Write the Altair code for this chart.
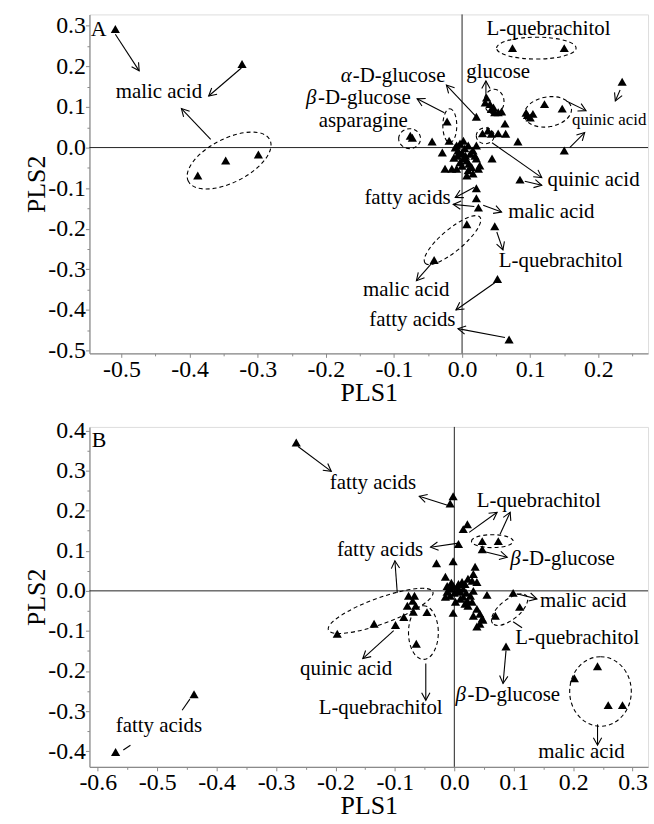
import math
import altair as alt
import pandas as pd

FONT = "Liberation Serif"
W, HA, HB = 562, 341, 342
XA_DOM = [-0.547, 0.273]
YA_DOM = [-0.507, 0.328]
XB_DOM = [-0.614, 0.326]
YB_DOM = [-0.439, 0.409]

# ---------------- Panel A scores ----------------
a_pls1 = [-0.509, -0.323, -0.388, -0.347, -0.299,
          0.074, 0.150, 0.235,
          0.121, 0.147, 0.096, 0.100, 0.104, 0.094,
          0.150, 0.085,
          0.036, 0.034, 0.041, 0.043, 0.048, 0.053, 0.058, 0.046,
          0.021, 0.063,
          0.030, 0.038, 0.043, 0.053, 0.064,
          0.082,
          -0.022, -0.019, -0.044, -0.076, -0.073, -0.029,
          -0.010, -0.006, 0.000, -0.007, 0.002, -0.003, 0.007, 0.012, 0.016, 0.021, 0.009, 0.004,
          0.019, 0.021, 0.014, 0.024, 0.026, 0.009, 0.007, 0.016, -0.025, -0.015, -0.008, 0.044,
          -0.003, 0.002, -0.004, 0.005, -0.012, 0.010, -0.008, 0.000,
          0.021, 0.021, 0.024, 0.007, 0.048, -0.041, 0.052, 0.069]
a_pls2 = [0.292, 0.206, -0.069, -0.032, -0.017,
          0.245, 0.245, 0.162,
          0.107, 0.096, 0.080, 0.074, 0.083, 0.086,
          -0.007, -0.079,
          0.123, 0.111, 0.107, 0.095, 0.087, 0.087, 0.089, 0.099,
          0.076, 0.059,
          0.035, 0.042, 0.034, 0.035, 0.034,
          0.015,
          0.064, 0.017, 0.015, 0.029, 0.024, -0.012,
          0.000, -0.007, -0.012, -0.020, -0.027, -0.036, -0.032, -0.015, -0.007, 0.005, 0.005, -0.002,
          -0.020, -0.027, -0.048, -0.052, -0.044, -0.056, -0.069, -0.064, -0.052, -0.052, -0.052, -0.027,
          0.010, 0.017, -0.015, -0.020, -0.025, -0.040, 0.005, -0.045,
          -0.100, -0.125, -0.148, -0.189, -0.194, -0.277, -0.324, -0.473]

# ---------------- Panel B scores ----------------
b_pls1 = [-0.266, -0.438, -0.570,
          -0.002, -0.007, 0.022, 0.015, 0.007, 0.047, 0.074, 0.047, -0.030, -0.002,
          0.035, 0.032, 0.030, 0.023, 0.018, 0.013, 0.007, 0.005, -0.002, -0.007, -0.012, -0.015,
          0.038, 0.032, 0.027, 0.022, 0.015, 0.010, 0.005, -0.007, -0.012, -0.015, 0.002, 0.018,
          0.023, 0.030, 0.038, 0.043, 0.047, 0.032,
          0.000, 0.010, -0.005, 0.015, 0.020,
          0.055, 0.099, 0.110, 0.069, -0.002,
          -0.077, -0.067, -0.070, -0.079, -0.065, -0.069, -0.085, -0.046, -0.135, -0.099, -0.197, -0.064,
          0.038, 0.043, 0.048, 0.087, 0.202, 0.241, 0.259, 0.283]
b_pls2 = [0.370, -0.258, -0.402,
          0.236, 0.218, 0.166, 0.154, 0.117, 0.124, 0.124, 0.104, 0.069, 0.074,
          0.060, 0.042, 0.025, 0.030, 0.017, 0.022, 0.017, 0.010, 0.012, 0.005, 0.012, 0.035,
          0.022, 0.000, -0.012, -0.025, -0.015, -0.002, 0.000, -0.012, -0.002, -0.015, -0.027, -0.032,
          -0.037, -0.027, -0.045, -0.057, -0.069, -0.062,
          -0.005, -0.020, 0.020, 0.005, -0.005,
          -0.010, -0.005, -0.040, -0.062, -0.055,
          -0.012, -0.012, -0.025, -0.037, -0.037, -0.052, -0.065, -0.053, -0.082, -0.085, -0.107, -0.132,
          -0.089, -0.082, -0.072, -0.139, -0.218, -0.188, -0.285, -0.285]

# ---------------- Annotation labels ----------------
a_lab_text = ["malic acid", "L-quebrachitol", "glucose", "asparagine", "quinic acid",
              "fatty acids", "malic acid", "L-quebrachitol", "malic acid", "fatty acids"]
a_lab_x = [-0.445, 0.127, 0.053, -0.145, 0.193, -0.080, 0.131, 0.145, -0.082, -0.073]
a_lab_y = [0.137, 0.292, 0.186, 0.065, -0.081, -0.125, -0.159, -0.279, -0.350, -0.426]
a_small_text = ["quinic acid"]
a_small_x = [0.216]
a_small_y = [0.069]
a_greek = ["α", "β"]
a_greek_rest = ["-D-glucose", "-D-glucose"]
a_greek_x = [-0.178, -0.229]
a_greek_y = [0.176, 0.122]

b_lab_text = ["fatty acids", "L-quebrachitol", "fatty acids", "malic acid", "L-quebrachitol",
              "malic acid", "quinic acid", "L-quebrachitol", "fatty acids"]
b_lab_x = [-0.137, 0.142, -0.125, 0.217, 0.207, 0.214, -0.182, -0.124, -0.497]
b_lab_y = [0.268, 0.223, 0.102, -0.025, -0.117, -0.402, -0.194, -0.293, -0.337]
b_greek = ["β", "β"]
b_greek_rest = ["-D-glucose", "-D-glucose"]
b_greek_x = [0.094, 0.002]
b_greek_y = [0.079, -0.260]

# ---------------- Dashed group ellipses (centre in data units, semi-axes px, tilt deg) ----
a_ell_x = [-0.342, 0.109, 0.047, -0.018, -0.077, 0.126, 0.034, -0.014]
a_ell_y = [-0.032, 0.245, 0.113, 0.054, 0.022, 0.088, 0.029, -0.228]
a_ell_a = [46, 40, 12.5, 17, 11, 24, 9, 36]
a_ell_b = [22, 11, 10, 7, 10, 15, 8, 11]
a_ell_t = [333, 0, 90, 90, 0, 350, 0, 320]

b_ell_x = [0.064, 0.246, 0.093, -0.124, -0.052]
b_ell_y = [0.124, -0.251, -0.047, -0.050, -0.104]
b_ell_a = [21, 35, 22, 56, 27]
b_ell_b = [6.5, 31, 10, 13, 15]
b_ell_t = [0, 90, 321, 340, 90]

# ---------------- Arrows (start -> end, head at end) ----------------
a_arr_x0 = [-0.509, -0.324, -0.369, 0.022, 0.035, -0.026, 0.153, 0.158, 0.232, 0.044, 0.092,
            0.018, 0.018, 0.031, 0.051, -0.044, 0.048, 0.063]
a_arr_y0 = [0.279, 0.196, 0.020, 0.074, 0.127, 0.086, 0.115, 0.000, 0.142, 0.012, -0.083,
            -0.098, -0.145, -0.142, -0.208, -0.284, -0.333, -0.468]
a_arr_x1 = [-0.474, -0.372, -0.412, -0.023, 0.035, -0.066, 0.182, 0.180, 0.225, 0.117, 0.117,
            -0.010, -0.013, 0.058, 0.060, -0.067, -0.009, -0.006]
a_arr_y1 = [0.189, 0.127, 0.096, 0.154, 0.164, 0.120, 0.091, 0.037, 0.115, -0.074, -0.093,
            -0.123, -0.140, -0.159, -0.252, -0.328, -0.400, -0.446]
a_arr_head = [1] * 18

b_arr_x0 = [-0.263, -0.010, 0.025, 0.077, 0.007, -0.096, 0.048, 0.105, 0.099, 0.087, 0.241,
            -0.102, -0.048, -0.445, -0.557]
b_arr_y0 = [0.360, 0.213, 0.146, 0.141, 0.119, -0.005, 0.099, -0.007, -0.077, -0.149, -0.333,
            -0.099, -0.181, -0.270, -0.397]
b_arr_x1 = [-0.207, -0.059, 0.072, 0.094, -0.040, -0.100, 0.089, 0.139, 0.114, 0.082, 0.241,
            -0.154, -0.048, -0.458, -0.545]
b_arr_y1 = [0.298, 0.236, 0.196, 0.196, 0.109, 0.075, 0.084, -0.020, -0.092, -0.231, -0.385,
            -0.169, -0.273, -0.298, -0.385]
b_arr_head = [1, 1, 1, 1, 1, 1, 1, 1, 0, 1, 1, 1, 1, 0, 0]

# ---------------- Axis tick values ----------------
a_xticks = [-0.5, -0.4, -0.3, -0.2, -0.1, 0.0, 0.1, 0.2]
a_yticks = [-0.5, -0.4, -0.3, -0.2, -0.1, 0.0, 0.1, 0.2, 0.3]
b_xticks = [-0.6, -0.5, -0.4, -0.3, -0.2, -0.1, 0.0, 0.1, 0.2, 0.3]
b_yticks = [-0.4, -0.3, -0.2, -0.1, 0.0, 0.1, 0.2, 0.3, 0.4]

HEAD = "M-1,-0.55L0,0L-1,0.55"
MAJOR = "abs(datum.value*10 - round(datum.value*10)) < 0.001"
TICK_FS = 24
ANN_FS = 21


def with_minor(ticks, dom):
    vals = list(ticks)
    for t in ticks:
        for m in (t - 0.05, t + 0.05):
            m = round(m, 3)
            if dom[0] <= m <= dom[1] and m not in vals:
                vals.append(m)
    return sorted(vals)


def mk_axis(values, title):
    return alt.Axis(
        values=values, title=title,
        labelExpr=f"{MAJOR} ? ((datum.value < -0.0001 ? '-' : '') + format(abs(datum.value), '.1f')) : ''",
        tickSize={"condition": {"test": MAJOR, "value": 4}, "value": 2.5},
        labelFont=FONT, labelFontSize=TICK_FS, labelColor="black",
        titleFont=FONT, titleFontSize=26, titleFontWeight="normal", titleColor="black",
        domainColor="#8a8a8a", domainWidth=1.2, tickColor="#8a8a8a", tickWidth=1,
        grid=False, labelPadding=0, titlePadding=-2, labelFlush=False, labelOverlap=False,
    )


def panel(h, xdom, ydom, xticks, yticks, px, py, lab, small, greek, ells, arrs, letter, lpos):
    sx = W / (xdom[1] - xdom[0])
    sy = h / (ydom[1] - ydom[0])
    xs = alt.Scale(domain=xdom, nice=False, zero=False)
    ys = alt.Scale(domain=ydom, nice=False, zero=False)
    xax = mk_axis(with_minor(xticks, xdom), "PLS1")
    yax = mk_axis(with_minor(yticks, ydom), "PLS2")

    def XY(xf="x", yf="y"):
        return dict(x=alt.X(f"{xf}:Q", scale=xs, axis=xax),
                    y=alt.Y(f"{yf}:Q", scale=ys, axis=yax))

    zero = pd.DataFrame({"x": [0.0], "y": [0.0]})
    vline = alt.Chart(zero).mark_rule(color="#222", strokeWidth=1).encode(
        x=alt.X("x:Q", scale=xs, axis=xax))
    hline = alt.Chart(zero).mark_rule(color="#222", strokeWidth=1).encode(
        y=alt.Y("y:Q", scale=ys, axis=yax))

    pts = pd.DataFrame({"x": px, "y": py})
    points = alt.Chart(pts).mark_point(shape="triangle-up", filled=True, size=85,
                                       color="black", opacity=1).encode(**XY())

    ex, ey, ea, eb, et = ells
    edf = pd.DataFrame({
        "x": ex, "y": ey,
        "path": [f"M-1,0A1,{b / a:.4f},0,1,1,1,0A1,{b / a:.4f},0,1,1,-1,0Z" for a, b in zip(ea, eb)],
        "sz": [(2 * a) ** 2 for a in ea],
        "ang": et,
    })
    ellipses = alt.Chart(edf).mark_point(filled=False, color="black", strokeWidth=1.1,
                                         strokeDash=[4, 3], opacity=1).encode(
        **XY(), shape=alt.Shape("path:N", scale=None),
        size=alt.Size("sz:Q", scale=None), angle=alt.Angle("ang:Q", scale=None))

    x0, y0, x1, y1, hd = arrs
    angs = [math.degrees(math.atan2(-(d - b) * sy, (c - a) * sx)) % 360
            for a, b, c, d in zip(x0, y0, x1, y1)]
    adf = pd.DataFrame({"x": x0, "y": y0, "x2": x1, "y2": y1, "head": hd, "ang": angs})
    lines = alt.Chart(adf).mark_rule(color="black", strokeWidth=1.1).encode(
        **XY(), x2="x2:Q", y2="y2:Q")
    heads = alt.Chart(adf[adf["head"] == 1]).mark_point(
        shape=HEAD, filled=False, color="black", strokeWidth=1.1, size=230, opacity=1).encode(
        **XY("x2", "y2"), angle=alt.Angle("ang:Q", scale=None))

    lt, lx, ly = lab
    ldf = pd.DataFrame({"x": lx, "y": ly, "t": lt})
    labels = alt.Chart(ldf).mark_text(font=FONT, fontSize=ANN_FS, color="black",
                                      align="center", baseline="middle").encode(**XY(), text="t:N")
    layers = [vline, hline, ellipses, lines, heads, points, labels]

    if small is not None:
        st, sxv, syv = small
        sdf = pd.DataFrame({"x": sxv, "y": syv, "t": st})
        layers.append(alt.Chart(sdf).mark_text(font=FONT, fontSize=17, color="black",
                                               align="center", baseline="middle").encode(**XY(), text="t:N"))

    g, gr, gx, gy = greek
    gdf = pd.DataFrame({"x": gx, "y": gy, "g": g, "r": gr})
    layers.append(alt.Chart(gdf).mark_text(font=FONT, fontSize=ANN_FS, fontStyle="italic", color="black",
                                           align="left", baseline="middle").encode(**XY(), text="g:N"))
    layers.append(alt.Chart(gdf).mark_text(font=FONT, fontSize=ANN_FS, color="black", dx=12,
                                           align="left", baseline="middle").encode(**XY(), text="r:N"))

    pdf = pd.DataFrame({"x": [lpos[0]], "y": [lpos[1]], "t": [letter]})
    layers.append(alt.Chart(pdf).mark_text(font=FONT, fontSize=22, color="black",
                                           align="left", baseline="middle").encode(**XY(), text="t:N"))

    return alt.layer(*layers).properties(width=W, height=h)


chart_a = panel(HA, XA_DOM, YA_DOM, a_xticks, a_yticks, a_pls1, a_pls2,
                (a_lab_text, a_lab_x, a_lab_y), (a_small_text, a_small_x, a_small_y),
                (a_greek, a_greek_rest, a_greek_x, a_greek_y),
                (a_ell_x, a_ell_y, a_ell_a, a_ell_b, a_ell_t),
                (a_arr_x0, a_arr_y0, a_arr_x1, a_arr_y1, a_arr_head), "A", (-0.545, 0.292))
chart_b = panel(HB, XB_DOM, YB_DOM, b_xticks, b_yticks, b_pls1, b_pls2,
                (b_lab_text, b_lab_x, b_lab_y), None,
                (b_greek, b_greek_rest, b_greek_x, b_greek_y),
                (b_ell_x, b_ell_y, b_ell_a, b_ell_b, b_ell_t),
                (b_arr_x0, b_arr_y0, b_arr_x1, b_arr_y1, b_arr_head), "B", (-0.610, 0.377))

chart = alt.vconcat(chart_a, chart_b, spacing=12).properties(
    padding={"left": 23, "top": 10, "right": 5, "bottom": 3}
).configure_view(stroke="#8a8a8a", strokeWidth=1.2).configure_axis(
    labelFont=FONT, titleFont=FONT, labelFontSize=TICK_FS, titleFontSize=26,
    titleFontWeight="normal", labelColor="black", titleColor="black"
).configure_text(font=FONT).configure(background="white", font=FONT)

chart.save("out.html", embed_options={"renderer": "svg", "actions": False})
